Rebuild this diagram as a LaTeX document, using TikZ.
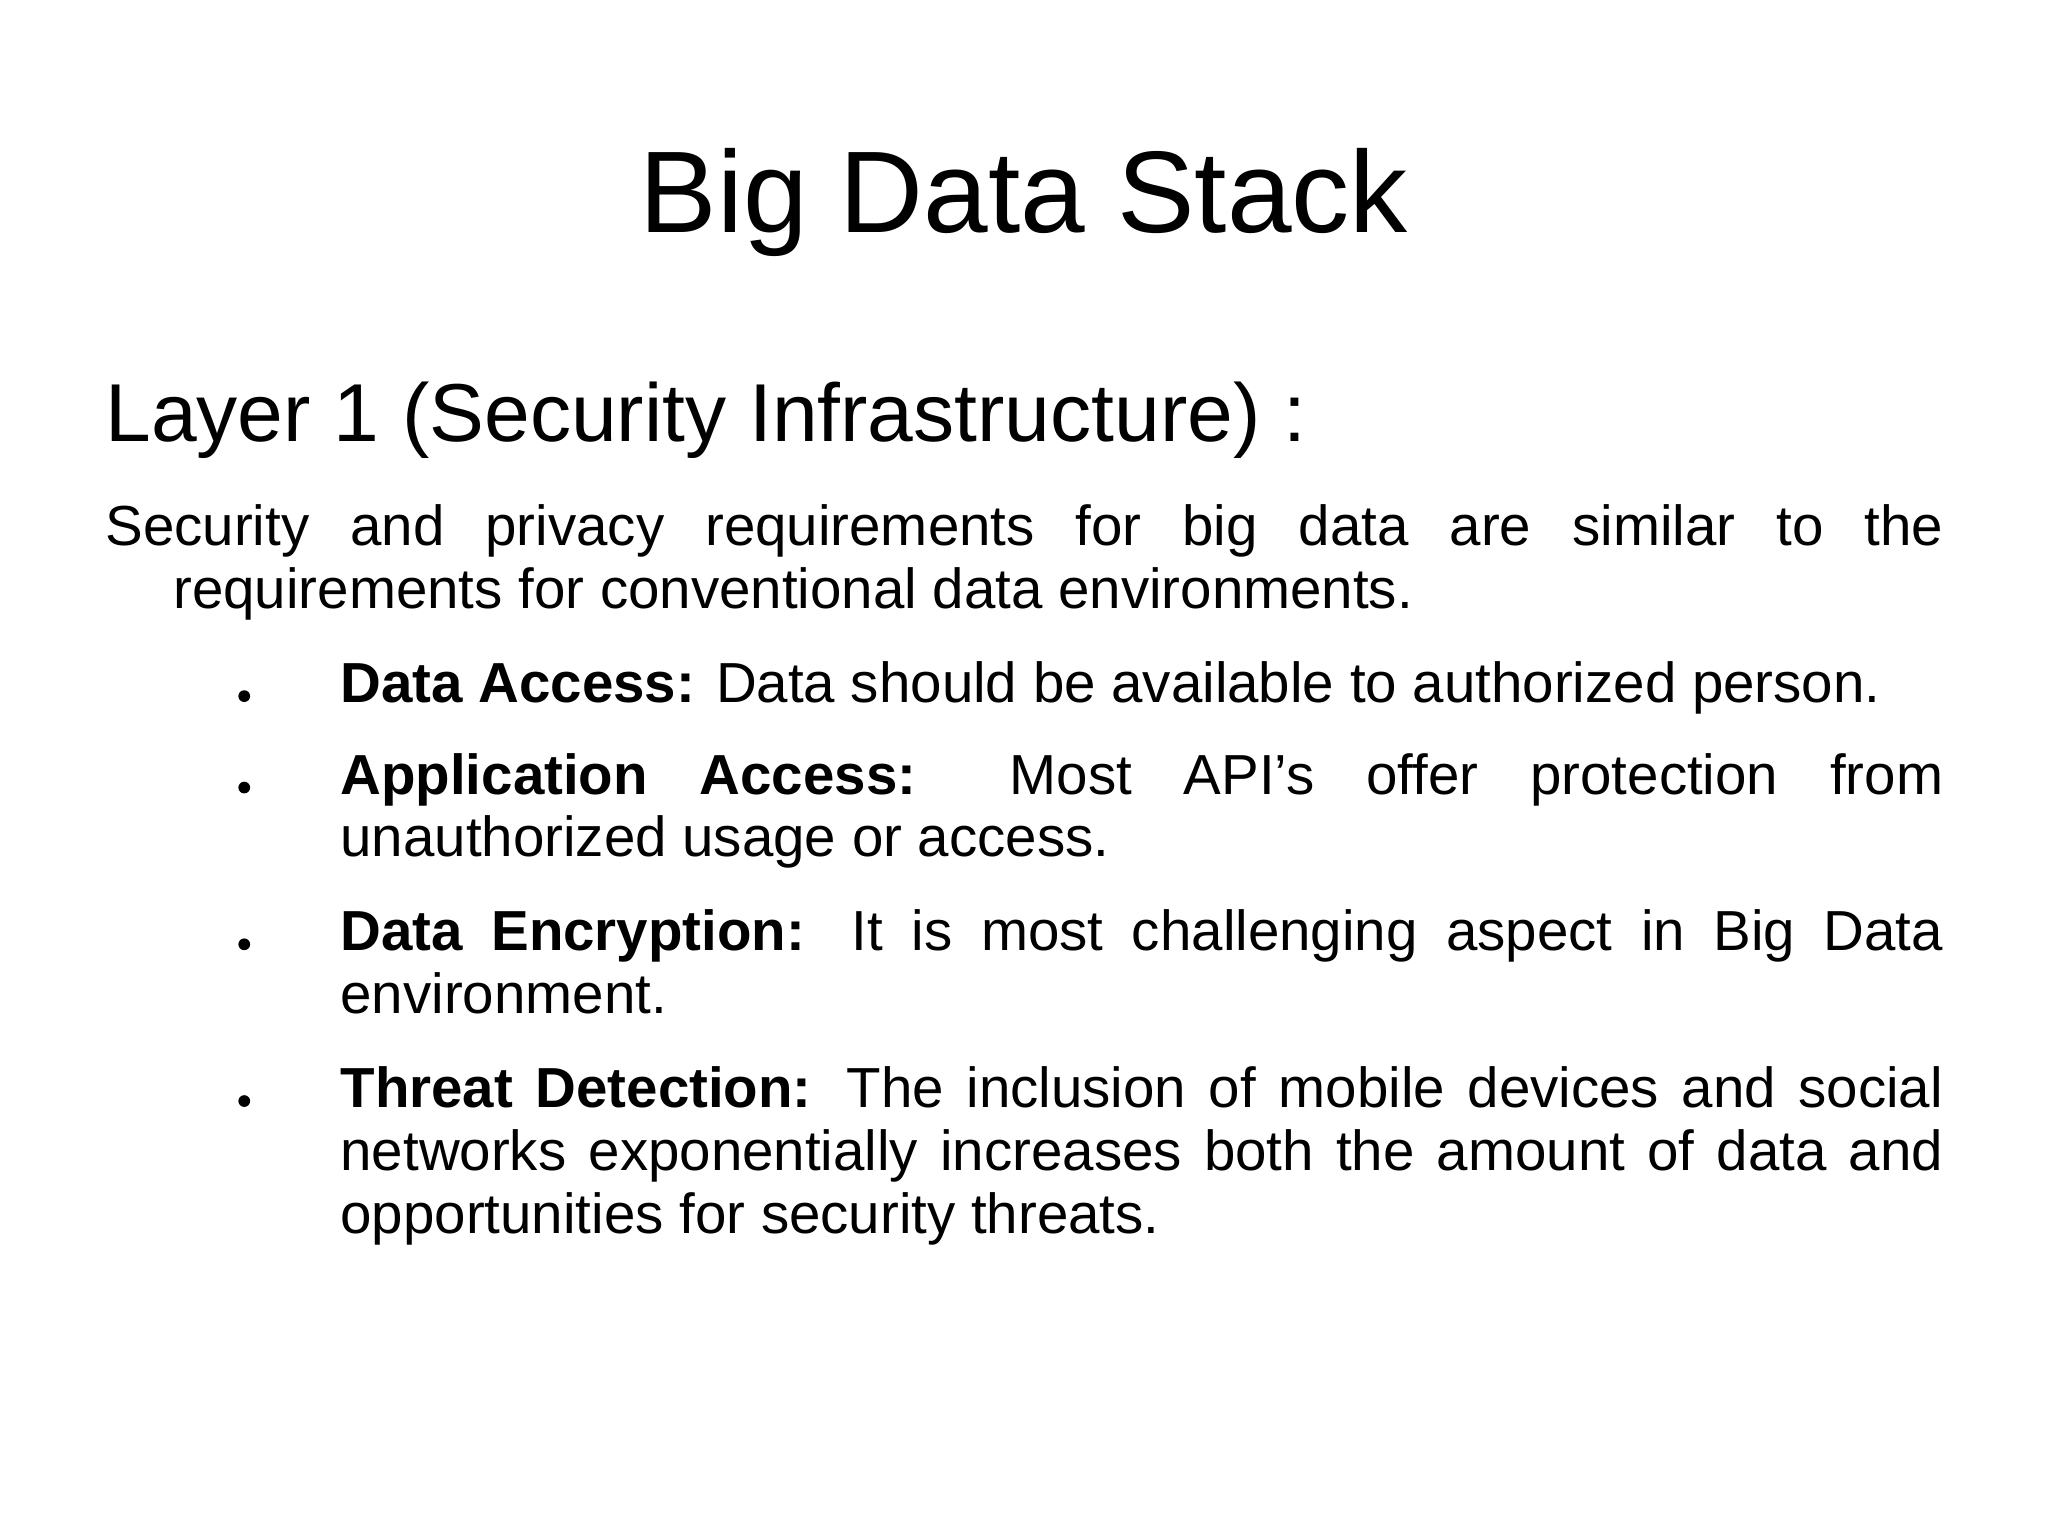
\documentclass[tikz,border=0pt]{standalone}
\usepackage{fontspec}
\setmainfont{Liberation Sans}
\begin{document}
\begin{tikzpicture}[x=1cm,y=1cm,
  body/.style={anchor=base west,inner sep=0pt,font=\fontsize{12.3pt}{13.7pt}\selectfont}]
\useasboundingbox (0,0) rectangle (15.68,11.76);
\fill[white] (0,0) rectangle (15.68,11.76);
\node[anchor=base,inner sep=0pt,font=\fontsize{25.3pt}{30pt}\selectfont] (title) at (7.84,9.98) {Big Data Stack};
\node[anchor=base west,inner sep=0pt,font=\fontsize{17.9pt}{22pt}\selectfont] (head) at (0.80,8.38) {Layer 1 (Security Infrastructure) :};
\node[body] (intro) at (0.80,7.58) {\parbox[t]{14.07cm}{\hyphenpenalty=10000\hangindent=0.52cm\hangafter=1 Security and privacy requirements for big data are similar to the\linebreak requirements for conventional data environments.}};
\foreach \y/\n/\t in {
 6.38/b1/{\textbf{Data Access:} Data should be available to authorized person.},
 5.68/b2/{\textbf{Application Access:} Most API\symbol{39}s offer protection from\linebreak unauthorized usage or access.},
 4.48/b3/{\textbf{Data Encryption:} It is most challenging aspect in Big Data\linebreak environment.},
 3.28/b4/{\textbf{Threat Detection:} The inclusion of mobile devices and social\linebreak networks exponentially increases both the amount of data and\linebreak opportunities for security threats.}}{
  \node[body] (\n) at (2.60,\y) {\parbox[t]{12.27cm}{\hyphenpenalty=10000 \t}};
  \fill (1.87,\y+0.05) circle (0.045);
}
\end{tikzpicture}
\end{document}
